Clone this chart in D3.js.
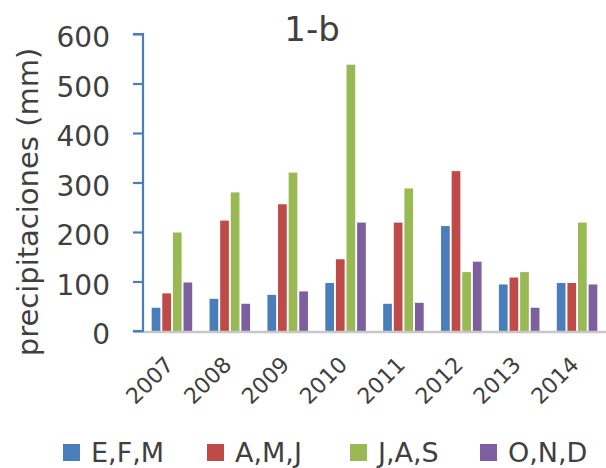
<!DOCTYPE html>
<html>
<head>
<meta charset="utf-8">
<script src="https://cdn.jsdelivr.net/npm/d3@7"></script>
<style>
  html, body { margin: 0; padding: 0; background: #ffffff; }
  svg { display: block; }
  text { font-family: "DejaVu Sans", sans-serif; fill: #404040; }
</style>
</head>
<body>
<svg id="chart" width="606" height="468"></svg>
<script>
// Quarterly precipitation by year (mm)
const years = ["2007", "2008", "2009", "2010", "2011", "2012", "2013", "2014"];
const seriesNames = ["E,F,M", "A,M,J", "J,A,S", "O,N,D"];
const efm = [47, 65, 73, 97, 55, 212, 94, 97];
const amj = [76, 223, 256, 145, 219, 323, 108, 97];
const jas = [199, 280, 320, 538, 288, 119, 119, 219];
const ond = [98, 55, 80, 219, 57, 140, 47, 94];
const yTicks = [0, 100, 200, 300, 400, 500, 600];
const colors = ["#4a7ebb", "#be4b48", "#98b954", "#7d5fa0"];

const seriesValues = [efm, amj, jas, ond];

const svg = d3.select("#chart");

const plot = { left: 143, right: 606, top: 34, bottom: 331 };

const x0 = d3.scaleBand()
  .domain(years)
  .range([plot.left, plot.right])
  .paddingInner(0.3)
  .paddingOuter(0.15);

const x1 = d3.scaleBand()
  .domain(seriesNames)
  .range([0, x0.bandwidth()])
  .paddingInner(0.18)
  .paddingOuter(0);

const y = d3.scaleLinear()
  .domain([0, 600])
  .range([plot.bottom, plot.top]);

// Title
svg.append("text")
  .attr("x", 312)
  .attr("y", 41)
  .attr("text-anchor", "middle")
  .style("font-size", "34px")
  .text("1-b");

// Bars
const groups = svg.append("g")
  .selectAll("g")
  .data(years)
  .join("g")
  .attr("transform", d => `translate(${x0(d)},0)`);

groups.selectAll("rect")
  .data((d, i) => seriesNames.map((s, k) => ({ s, k, v: seriesValues[k][i] })))
  .join("rect")
  .attr("x", d => x1(d.s))
  .attr("width", x1.bandwidth())
  .attr("y", d => y(d.v))
  .attr("height", d => y(0) - y(d.v))
  .attr("fill", d => colors[d.k]);

// Category baseline
svg.append("line")
  .attr("x1", plot.left)
  .attr("x2", plot.right)
  .attr("y1", y(0) + 1)
  .attr("y2", y(0) + 1)
  .attr("stroke", "#c8c8c8")
  .attr("stroke-width", 2.5);

// Value axis
const yAxis = d3.axisLeft(y)
  .tickValues(yTicks)
  .tickSize(10)
  .tickPadding(0)
  .tickFormat(d3.format("d"));

const gy = svg.append("g")
  .attr("transform", `translate(${plot.left},0)`)
  .call(yAxis);

gy.select(".domain")
  .attr("stroke", "#4a7ebb")
  .attr("stroke-width", 2.2)
  .attr("d", `M-10,${plot.top}H0V${plot.bottom}H-10`);
gy.selectAll(".tick line")
  .attr("stroke", "#4a7ebb")
  .attr("stroke-width", 2.2);
gy.selectAll(".tick text")
  .attr("x", -33)
  .attr("dy", "0.45em")
  .style("font-size", "28px")
  .style("fill", "#404040")
  .style("font-family", "'DejaVu Sans', sans-serif");

// Axis title
svg.append("text")
  .attr("transform", "translate(38,202) rotate(-90)")
  .attr("text-anchor", "middle")
  .style("font-size", "29px")
  .text("precipitaciones (mm)");

// Rotated year labels
svg.append("g")
  .selectAll("text")
  .data(years)
  .join("text")
  .attr("transform", d => `translate(${x0(d) + x0.bandwidth() / 2 + 3},${y(0) + 35}) rotate(-45)`)
  .attr("text-anchor", "end")
  .style("font-size", "22px")
  .text(d => d);

// Legend
const legendX = [63, 207, 350, 480];
const legend = svg.append("g");
seriesNames.forEach((name, k) => {
  legend.append("rect")
    .attr("x", legendX[k])
    .attr("y", 444)
    .attr("width", 17)
    .attr("height", 17)
    .attr("fill", colors[k]);
  legend.append("text")
    .attr("x", legendX[k] + 28)
    .attr("y", 462)
    .style("font-size", "27px")
    .text(name);
});
</script>
</body>
</html>
